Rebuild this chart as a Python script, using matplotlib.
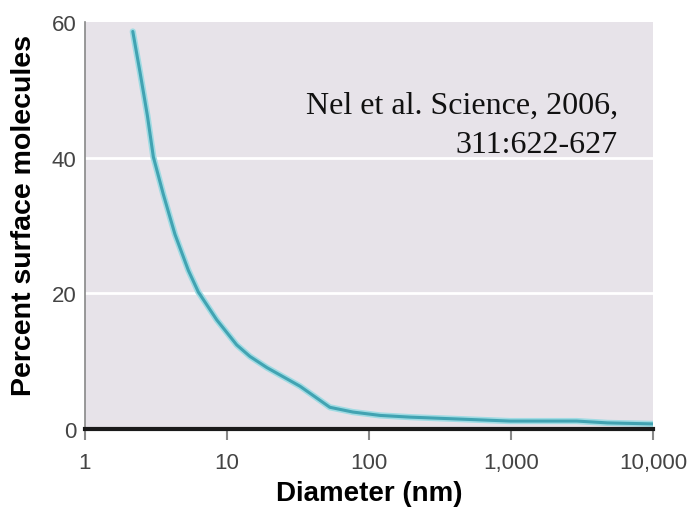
import numpy as np
import matplotlib
matplotlib.use("Agg")
import matplotlib.pyplot as plt

# values (diameter in nm, percent on surface)
diameter_nm = [2.17, 2.44, 2.75, 3.03, 3.56, 4.3, 5.34, 6.28, 8.46, 11.7,
               14.5, 19.1, 32.7, 53, 77, 120, 195, 985, 2900, 4780, 10000]
percent_surface = [58.6, 52.6, 46.2, 40.1, 34.6, 28.7, 23.4, 20.2, 16.1, 12.4,
                   10.7, 9.05, 6.3, 3.2, 2.5, 2.0, 1.75, 1.17, 1.17, 0.9, 0.75]

x_ticks = [1, 10, 100, 1000, 10000]
x_tick_labels = ["1", "10", "100", "1,000", "10,000"]
y_ticks = [0, 20, 40, 60]
citation_lines = ["Nel et al. Science, 2006,", "311:622-627"]

plt.rcParams["font.family"] = ["Liberation Sans", "DejaVu Sans"]

fig = plt.figure(figsize=(6.92, 5.10), dpi=100)
ax = fig.add_axes([85 / 692, 80 / 510, 568 / 692, 407 / 510])
ax.set_facecolor("#e7e3e9")

ax.set_xscale("log")
ax.set_xlim(1, 10000)
ax.set_ylim(0, 60)

# white gridlines at 20 and 40
for gy in [20, 40]:
    ax.axhline(gy, color="white", lw=2, zorder=1)

# teal curve, lighter halo underneath
ax.plot(diameter_nm, percent_surface, color="#a0dbe3", lw=4.5,
        solid_capstyle="round", solid_joinstyle="round", zorder=3)
ax.plot(diameter_nm, percent_surface, color="#41a3b2", lw=2.2,
        solid_capstyle="round", solid_joinstyle="round", zorder=4)

# spines
for side in ["top", "right"]:
    ax.spines[side].set_visible(False)
ax.spines["left"].set_color("#888888")
ax.spines["left"].set_linewidth(1.2)
ax.spines["bottom"].set_color("#1a1a1a")
ax.spines["bottom"].set_linewidth(3)
ax.spines["bottom"].set_zorder(5)

ax.set_xticks(x_ticks)
ax.set_xticklabels(x_tick_labels)
ax.xaxis.set_minor_locator(matplotlib.ticker.NullLocator())
ax.tick_params(axis="x", direction="out", length=8, width=1.5,
               color="#888888", labelsize=16, labelcolor="#444444", pad=8.5)
ax.set_yticks(y_ticks)
ax.tick_params(axis="y", length=0, labelsize=16, labelcolor="#444444", pad=6)

ax.set_xlabel("Diameter (nm)", fontsize=20, fontweight="bold", labelpad=5)
ax.set_ylabel("Percent surface molecules", fontsize=20.5, fontweight="bold")
ax.yaxis.set_label_coords(-0.085, 0.528)

# citation, two right-aligned lines
for txt, ty in zip(citation_lines, [0.777, 0.681]):
    ax.text(0.938, ty, txt, transform=ax.transAxes, ha="right",
            va="baseline", fontsize=23,
            family=["Liberation Serif", "DejaVu Serif"],
            color="#111111", zorder=6)

fig.savefig("out.png", dpi=100)
